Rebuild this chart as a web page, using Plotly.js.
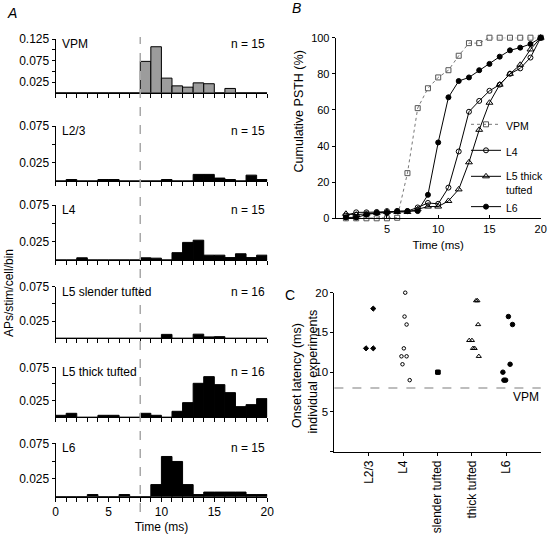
<!DOCTYPE html>
<html><head><meta charset="utf-8">
<script src="https://cdn.plot.ly/plotly-3.0.1.min.js"></script>
<style>html,body{margin:0;padding:0;background:#fff}</style>
</head><body><div id="chart" style="width:548px;height:537px"></div>
<script>
// ---------- Panel A: PSTHs (1 ms bins, 0-20 ms) ----------
const binStarts = [0,1,2,3,4,5,6,7,8,9,10,11,12,13,14,15,16,17,18,19];
const psthVPM   = [0,0,0,0,0,0,0,0,0.073,0.107,0.034,0.016,0.013,0.023,0.021,0,0.010,0,0,0];
const psthL23   = [0,0.002,0,0,0.002,0.002,0,0,0,0,0.002,0,0,0.009,0.009,0.004,0.002,0,0.008,0.002];
const psthL4    = [0,0,0.003,0,0,0,0,0,0.003,0.0025,0,0.010,0.024,0.027,0.0066,0.0066,0.0033,0.0085,0.0033,0.0066];
const psthL5sl  = [0,0,0,0,0,0,0,0,0,0,0.0057,0,0,0.006,0.002,0.0024,0,0,0,0];
const psthL5tt  = [0.003,0.006,0,0,0.003,0.003,0,0,0.006,0.003,0,0.009,0.022,0.051,0.061,0.049,0.037,0.016,0.019,0.028];
const psthL6    = [0,0,0,0.003,0,0,0.003,0,0,0.017,0.0565,0.0495,0.017,0.003,0.0065,0.0065,0.0065,0.0065,0.003,0.003];
const panelANames  = ['VPM','L2/3','L4','L5 slender tufted','L5 thick tufted','L6'];
const panelACounts = [15,15,15,16,16,15];
const vpmOnset = 8;

// ---------- Panel B: cumulative PSTH (%) ----------
const cumTimes = [1,2,3,4,5,6,7,8,9,10,11,12,13,14,15,16,17,18,19,20];
const cumVPM  = [0,0,0,0,0,0.3,25,61,72,78,82,90,97,97,100,100,100,100,100,100];
const cumL4   = [1.5,3.3,3.3,3.5,4,4,4,6,8.5,8,17,37,59,65,70.6,74,80,83,89,100];
const cumL5tt = [2.5,2,2.5,3,3.5,3.5,3.5,5,6.5,6.5,9.6,16,31,49,64,74,80,85,93.5,100];
const cumL6   = [0.5,0.5,2,3,3,4,4,4,13,42,67,76,78,82,85.5,89.5,93,94.5,96.5,100];

// ---------- Panel C: onset latency per experiment (ms) ----------
const onsetCategories = ['L2/3','L4','slender tufted','thick tufted','L6'];
const onsetL23  = [13,13,18];
const jitterL23 = [-0.08,0.13,0.13];
const onsetL4   = [20,17,16,13,12,12,11,9];
const jitterL4  = [0.06,0.04,0.1,0.02,-0.05,0.1,-0.02,0.19];
const onsetL5sl = [10,10];
const jitterL5sl= [0,0.02];
const onsetL5tt = [19,19,16,14,14,13,13,12];
const jitterL5tt= [0.12,0.16,0.18,-0.08,0,0.03,0.08,0.2];
const onsetL6   = [17,16,11,10,9,9];
const jitterL6  = [0.06,0.18,0.11,-0.1,-0.07,-0.02];

// ---------- layout helpers ----------
const W = 548, H = 537;
const fx = p => p / W;
const fy = p => 1 - p / H;
const FONT = 'Liberation Sans, Arial, Helvetica, sans-serif';

const traces = [];
const layout = {
  width: W, height: H,
  margin: {l:0, r:0, t:0, b:0},
  paper_bgcolor: '#fff', plot_bgcolor: 'rgba(0,0,0,0)',
  font: {family: FONT, size: 12, color: '#000'},
  showlegend: true,
  bargap: 0,
  annotations: [], shapes: []
};

// Panel A
const psths = [psthVPM, psthL23, psthL4, psthL5sl, psthL5tt, psthL6];
const rowsA = [[39,92.75],[126,181],[205,260],[286.7,338.3],[367.3,417.3],[443.3,496.7]];
const xDomA = [fx(55.7), fx(267.7)];
psths.forEach((vals, i) => {
  const n = i + 1;
  const xa = n === 1 ? 'x' : 'x' + n;
  const ya = n === 1 ? 'y' : 'y' + n;
  traces.push({
    type: 'bar', x: binStarts, y: vals, offset: 0, width: 1,
    xaxis: xa, yaxis: ya, showlegend: false, hoverinfo: 'skip',
    marker: {color: i === 0 ? '#9c9c9c' : '#000', line: {color: '#000', width: 1}}
  });
  const isBottom = n === 6;
  const isVPM = n === 1;
  layout['xaxis' + (n === 1 ? '' : n)] = {
    domain: xDomA, range: [0, 20], anchor: ya,
    showline: true, linecolor: '#000', linewidth: 1,
    ticks: 'outside', ticklen: 4, tickcolor: '#000', tickwidth: 1,
    tickvals: binStarts.concat([20]),
    ticktext: binStarts.concat([20]).map(v => (isBottom && v % 5 === 0) ? String(v) : ''),
    showticklabels: isBottom, showgrid: false, zeroline: false,
    tickfont: {size: 12},
    title: isBottom ? {text: 'Time (ms)', font: {size: 12}, standoff: 4} : undefined
  };
  layout['yaxis' + (n === 1 ? '' : n)] = {
    domain: [fy(rowsA[i][1]), fy(rowsA[i][0])],
    range: isVPM ? [0, 0.125] : [0, 0.075], anchor: xa,
    showline: true, linecolor: '#000', linewidth: 1,
    ticks: 'outside', ticklen: 3, tickcolor: '#000',
    tickvals: isVPM ? [0.025,0.05,0.075,0.1,0.125] : [0.025,0.05,0.075],
    ticktext: isVPM ? ['0.025','','0.075','','0.125'] : ['0.025','','0.075'],
    showgrid: false, zeroline: false, tickfont: {size: 12}
  };
  layout.annotations.push({
    xref: xa + ' domain', yref: ya + ' domain', x: 0.022, y: 1, xanchor: 'left', yanchor: 'middle',
    yshift: -5, text: panelANames[i], showarrow: false, font: {size: 12}
  });
  layout.annotations.push({
    xref: xa + ' domain', yref: ya + ' domain', x: 1, y: 1, xanchor: 'right', yanchor: 'middle',
    yshift: -5, text: 'n = ' + panelACounts[i], showarrow: false, font: {size: 12}
  });
});
layout.shapes.push({
  type: 'line', xref: 'x', yref: 'paper', x0: vpmOnset, x1: vpmOnset,
  y0: fy(512), y1: fy(37), line: {color: '#a8a8a8', width: 1.5, dash: 'dash'}, layer: 'above'
});
layout.annotations.push({
  xref: 'paper', yref: 'paper', x: fx(9), y: fy(293), textangle: -90,
  text: 'APs/stim/cell/bin', showarrow: false, font: {size: 12}, xanchor: 'center', yanchor: 'middle'
});
layout.annotations.push({
  xref: 'paper', yref: 'paper', x: fx(12), y: fy(13), text: '<i>A</i>',
  showarrow: false, font: {size: 14}, xanchor: 'center', yanchor: 'middle'
});

// Panel B
const bSeries = [
  {name: 'VPM', y: cumVPM, sym: 'square-open', col: '#555', line: {color: '#777', width: 1, dash: 'dot'}, size: 5, g: 'g0'},
  {name: 'L4', y: cumL4, sym: 'circle-open', col: '#000', line: {color: '#000', width: 1}, size: 5, g: 'g1'},
  {name: 'L5 thick<br>tufted', y: cumL5tt, sym: 'triangle-up-open', col: '#000', line: {color: '#000', width: 1}, size: 6, g: 'g2'},
  {name: 'L6', y: cumL6, sym: 'circle', col: '#000', line: {color: '#000', width: 1}, size: 5, g: 'g2'}
];
bSeries.forEach((s, i) => {
  traces.push({
    type: 'scatter', mode: 'lines+markers', x: cumTimes, y: s.y, name: s.name,
    xaxis: 'x7', yaxis: 'y7', legendgroup: s.g, cliponaxis: false,
    line: s.line, marker: {symbol: s.sym, size: s.size, color: s.col, line: {color: s.col, width: 1}},
    hoverinfo: 'skip'
  });
});
layout.xaxis7 = {
  domain: [fx(336.3), fx(541.7)], range: [0, 20], anchor: 'y7',
  showline: true, linecolor: '#000', ticks: 'inside', ticklen: 3, tickcolor: '#000',
  tickvals: [5,10,15,20], showgrid: false, zeroline: false, tickfont: {size: 11},
  title: {text: 'Time (ms)', font: {size: 11.5}, standoff: 7}
};
layout.yaxis7 = {
  domain: [fy(218.3), fy(37.7)], range: [0, 100], anchor: 'x7',
  showline: true, linecolor: '#000', ticks: 'outside', ticklen: 3, tickcolor: '#000',
  tickvals: [0,20,40,60,80,100], showgrid: false, zeroline: false, tickfont: {size: 11}
};
layout.annotations.push({
  xref: 'paper', yref: 'paper', x: fx(300), y: fy(111), textangle: -90,
  text: 'Cumulative PSTH (%)', showarrow: false, font: {size: 12.5}, xanchor: 'center', yanchor: 'middle'
});
layout.annotations.push({
  xref: 'paper', yref: 'paper', x: fx(297.5), y: fy(8), text: '<i>B</i>',
  showarrow: false, font: {size: 14}, xanchor: 'center', yanchor: 'middle'
});
layout.legend = {
  x: fx(467), y: fy(111), xanchor: 'left', yanchor: 'top',
  bgcolor: 'rgba(0,0,0,0)', borderwidth: 0, font: {size: 10.5},
  tracegroupgap: 7, valign: 'top', itemclick: false
};

// Panel C
const cSeries = [
  {y: onsetL23, j: jitterL23, k: 1, sym: 'diamond', size: 4},
  {y: onsetL4, j: jitterL4, k: 2, sym: 'circle-open', size: 3.5},
  {y: onsetL5sl, j: jitterL5sl, k: 3, sym: 'square', size: 4},
  {y: onsetL5tt, j: jitterL5tt, k: 4, sym: 'triangle-up-open', size: 4.5},
  {y: onsetL6, j: jitterL6, k: 5, sym: 'circle', size: 4.5}
];
cSeries.forEach(s => {
  traces.push({
    type: 'scatter', mode: 'markers', x: s.y.map((v, i) => s.k + s.j[i]), y: s.y,
    xaxis: 'x8', yaxis: 'y8', showlegend: false, cliponaxis: false, hoverinfo: 'skip',
    marker: {symbol: s.sym, size: s.size, color: '#000', line: {color: '#000', width: 1}}
  });
});
layout.xaxis8 = {
  domain: [fx(335), fx(541.7)], range: [0, 6], anchor: 'y8',
  showline: true, linecolor: '#000', ticks: 'outside', ticklen: 3, tickcolor: '#000',
  tickvals: [1,2,3,4,5], ticktext: onsetCategories, tickangle: -90,
  showgrid: false, zeroline: false, tickfont: {size: 12}
};
layout.yaxis8 = {
  domain: [fy(451.7), fy(292.7)], range: [0, 20], anchor: 'x8',
  showline: true, linecolor: '#000', ticks: 'outside', ticklen: 3, tickcolor: '#000',
  tickvals: [0,5,10,15,20], ticktext: ['','5','10','15','20'],
  showgrid: false, zeroline: false, tickfont: {size: 11.5}
};
layout.shapes.push({
  type: 'line', xref: 'x8 domain', yref: 'y8', x0: 0, x1: 1, y0: vpmOnset, y1: vpmOnset,
  line: {color: '#a8a8a8', width: 1.5, dash: 'dash'}
});
layout.annotations.push({
  xref: 'x8 domain', yref: 'y8', x: 1, y: vpmOnset, xanchor: 'right', yanchor: 'top', yshift: 0,
  text: 'VPM', showarrow: false, font: {size: 12}
});
layout.annotations.push({
  xref: 'paper', yref: 'paper', x: fx(297.5), y: fy(375), textangle: -90,
  text: 'Onset latency (ms)', showarrow: false, font: {size: 12.5}, xanchor: 'center', yanchor: 'middle'
});
layout.annotations.push({
  xref: 'paper', yref: 'paper', x: fx(314), y: fy(371), textangle: -90,
  text: 'individual experiments', showarrow: false, font: {size: 12.5}, xanchor: 'center', yanchor: 'middle'
});
layout.annotations.push({
  xref: 'paper', yref: 'paper', x: fx(291), y: fy(295), text: 'C',
  showarrow: false, font: {size: 14}, xanchor: 'center', yanchor: 'middle'
});

Plotly.newPlot('chart', traces, layout, {displayModeBar: false, staticPlot: true});
</script></body></html>
